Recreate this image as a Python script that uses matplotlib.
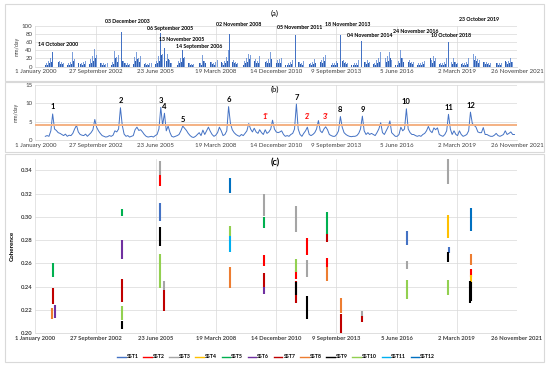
import matplotlib
matplotlib.use('Agg')
import matplotlib.pyplot as plt
from matplotlib.lines import Line2D
import pandas as pd

plt.rcParams['font.family'] = ['Lato', 'DejaVu Sans']

T0 = pd.Timestamp('2000-01-01')

def days(d):
    return (pd.to_datetime(d) - T0).days

# ---- data ----
tick_days = [0, 1000, 2000, 3000, 4000, 5000, 6000, 7000, 8000]
tick_labels = ['1 January 2000', '27 September 2002', '23 June 2005', '19 March 2008',
               '14 December 2010', '9 September 2013', '5 June 2016', '2 March 2019',
               '26 November 2021']

first_month = '2000-06-01'

# (a) monthly highest daily rain (mm/day), Jun 2000 .. Oct 2021
rain_monthly = [
    10, 8, 14, 22, 30, 33, 20,                     # 2000
    22, 14, 12, 9, 13, 8, 10, 12, 36, 18, 28, 16,  # 2001
    12, 9, 12, 14, 8, 14, 18, 25, 44, 28, 20, 14,  # 2002
    10, 8, 7, 8, 12, 10, 12, 38, 24, 28, 36, 26,   # 2003
    14, 8, 10, 7, 9, 12, 24, 36, 22, 26, 18, 12,   # 2004
    9, 7, 8, 9, 7, 12, 14, 25, 40, 30, 38, 28,     # 2005
    30, 16, 9, 7, 9, 10, 14, 20, 34, 24, 20, 14,   # 2006
    10, 7, 6, 9, 12, 15, 10, 28, 14, 22, 35, 20,   # 2007
    12, 9, 12, 16, 26, 20, 10, 14, 24, 40, 25, 22, # 2008
    16, 12, 10, 9, 12, 10, 14, 20, 30, 28, 22, 26, # 2009
    18, 15, 25, 16, 12, 20, 14, 18, 35, 62, 26, 18,# 2010
    16, 18, 20, 12, 9, 10, 9, 12, 16, 24, 40, 22,  # 2011
    12, 9, 15, 20, 25, 12, 10, 12, 18, 40, 35, 20, # 2012
    16, 24, 28, 22, 12, 10, 9, 9, 14, 22, 30, 26,  # 2013
    16, 12, 10, 9, 8, 9, 9, 10, 16, 28, 30, 20,    # 2014
    12, 16, 12, 15, 12, 10, 16, 22, 35, 16, 12, 20,# 2015
    26, 35, 16, 12, 9, 9, 14, 40, 20, 25, 30, 22,  # 2016
    16, 12, 12, 10, 9, 10, 9, 12, 15, 20, 28, 40,  # 2017
    16, 25, 22, 26, 12, 10, 9, 12, 20, 30, 25, 12, # 2018
    20, 12, 10, 20, 12, 9, 10, 12, 22, 40, 40, 30, # 2019
    26, 18, 16, 16, 22, 12, 12, 10, 9, 9, 11, 15,  # 2020
    10, 9, 10, 12, 25, 12, 15, 20, 12, 14,         # 2021
]
# (a) second-highest daily rain of each month
rain_second = [
    5, 4, 8, 12, 18, 20, 12,                       # 2000
    12, 7, 6, 4, 8, 3, 5, 6, 15, 10, 16, 9,        # 2001
    7, 5, 6, 8, 4, 7, 10, 14, 22, 15, 11, 8,       # 2002
    5, 4, 3, 4, 6, 5, 7, 20, 12, 15, 22, 14,       # 2003
    8, 4, 5, 3, 5, 6, 14, 18, 12, 14, 10, 6,       # 2004
    5, 3, 4, 5, 3, 6, 8, 14, 28, 16, 22, 15,       # 2005
    18, 9, 5, 3, 5, 5, 8, 11, 20, 13, 11, 8,       # 2006
    5, 3, 3, 5, 7, 8, 5, 15, 8, 12, 20, 11,        # 2007
    7, 5, 6, 9, 15, 11, 5, 8, 13, 28, 14, 12,      # 2008
    9, 6, 5, 4, 6, 5, 8, 11, 18, 15, 12, 14,       # 2009
    10, 8, 14, 9, 6, 12, 8, 10, 18, 30, 14, 10,    # 2010
    9, 10, 11, 6, 4, 5, 4, 6, 9, 13, 30, 12,       # 2011
    6, 4, 8, 11, 15, 6, 5, 6, 10, 22, 18, 11,      # 2012
    9, 13, 16, 12, 6, 5, 4, 4, 8, 12, 22, 14,      # 2013
    9, 6, 5, 4, 4, 4, 4, 5, 9, 15, 20, 11,         # 2014
    6, 9, 6, 8, 6, 5, 9, 12, 20, 9, 6, 11,         # 2015
    14, 20, 9, 6, 4, 4, 8, 22, 11, 14, 24, 12,     # 2016
    9, 6, 6, 5, 4, 5, 4, 6, 8, 11, 16, 20,         # 2017
    9, 14, 12, 15, 6, 5, 4, 6, 11, 22, 14, 6,      # 2018
    11, 6, 5, 11, 6, 4, 5, 6, 12, 25, 22, 16,      # 2019
    14, 10, 9, 9, 12, 6, 6, 5, 4, 4, 6, 8,         # 2020
    5, 4, 5, 6, 14, 6, 8, 11, 6, 8,                # 2021
]

event_dates = ['2000-10-14', '2003-12-03', '2005-09-06', '2005-11-13', '2006-09-14',
               '2008-11-02', '2011-11-05', '2013-11-18', '2014-11-04', '2016-11-24',
               '2018-10-10', '2019-10-23']
event_names = ['14 October 2000', '03 December 2003', '06 September 2005', '13 November 2005',
               '14 September 2006', '02 November 2008', '05 November 2011', '18 November 2013',
               '04 November 2014', '24 November 2016', '10 October 2018', '23 October 2019']
event_rain = [37, 85, 82, 45, 40, 80, 77, 78, 63, 55, 60, 99]

# (b) monthly mean rain (mm/day)
rain_mean = [
    1.0, 1.2, 1.0, 2.5, 7.1, 3.0, 2.6,                          # 2000
    2.0, 1.8, 1.5, 1.2, 1.6, 1.0, 1.3, 1.2, 1.8, 3.0, 4.0, 2.2, # 2001
    1.5, 1.3, 1.2, 1.6, 1.0, 1.5, 2.0, 2.8, 5.6, 3.5, 2.5, 1.8, # 2002
    1.2, 1.0, 0.8, 0.9, 1.2, 1.0, 1.3, 2.5, 2.2, 3.0, 8.8, 4.0, # 2003
    1.6, 1.0, 1.2, 0.8, 1.0, 1.2, 2.8, 3.5, 2.6, 2.8, 2.2, 1.5, # 2004
    1.0, 0.8, 0.9, 1.0, 0.8, 1.2, 1.5, 3.0, 8.9, 4.0, 7.3, 2.5, # 2005
    3.8, 2.0, 1.0, 0.8, 1.0, 1.2, 1.5, 2.5, 3.8, 3.2, 2.6, 1.8, # 2006
    1.2, 0.8, 0.7, 1.0, 1.5, 2.0, 1.2, 2.7, 1.5, 2.5, 3.5, 2.4, # 2007
    1.5, 1.0, 1.3, 2.0, 3.5, 2.5, 1.2, 1.5, 2.5, 9.1, 4.5, 2.8, # 2008
    2.0, 1.5, 1.2, 1.0, 1.5, 1.2, 1.8, 2.5, 4.5, 3.0, 2.2, 3.2, # 2009
    2.2, 1.8, 2.8, 2.0, 1.5, 2.8, 1.8, 2.2, 3.0, 5.4, 3.0, 2.2, # 2010
    2.0, 2.2, 2.5, 1.5, 1.0, 1.2, 1.0, 1.5, 1.8, 3.0, 9.8, 3.0, # 2011
    1.5, 1.0, 1.8, 2.5, 3.5, 1.5, 1.2, 1.5, 2.0, 3.0, 5.3, 2.5, # 2012
    2.0, 3.0, 3.6, 2.8, 1.5, 1.2, 1.0, 1.0, 1.5, 2.5, 6.4, 3.5, # 2013
    2.0, 1.5, 1.2, 1.0, 0.9, 1.0, 1.0, 1.2, 1.8, 3.0, 6.5, 2.5, # 2014
    1.5, 2.0, 1.5, 1.8, 1.5, 1.2, 2.0, 3.0, 4.7, 2.0, 1.5, 2.5, # 2015
    3.5, 5.2, 2.0, 1.5, 1.0, 1.0, 1.5, 3.5, 2.5, 3.0, 8.5, 3.0, # 2016
    2.0, 1.5, 1.5, 1.2, 1.0, 1.2, 1.0, 1.5, 1.8, 2.5, 3.7, 2.5, # 2017
    2.0, 3.3, 2.8, 3.3, 1.5, 1.2, 1.0, 1.5, 2.5, 7.0, 3.0, 1.5, # 2018
    2.5, 1.5, 1.2, 2.5, 1.5, 1.0, 1.2, 1.5, 2.5, 7.6, 4.5, 4.0, # 2019
    3.5, 2.2, 2.0, 2.0, 3.4, 1.5, 1.5, 1.2, 1.0, 1.0, 1.3, 1.8, # 2020
    1.2, 1.0, 1.2, 1.5, 2.5, 1.5, 1.8, 2.2, 1.5, 1.5,           # 2021
]
threshold = 4.2

peak_labels = ['1', '2', '3', '4', '5', '6', '7', '8', '9', '10', '11', '12']
peak_months = ['2000-10', '2003-11', '2005-09', '2005-11', '2006-09', '2008-10',
               '2011-11', '2013-11', '2014-11', '2016-11', '2018-10', '2019-10']
minor_labels = ["1'", "2'", "3'"]
minor_months = ['2010-06', '2012-05', '2013-03']

# (c) coherence ranges: (date, low, high)
sst_segments = {
    'SST1': [('2005-09-06', 0.296, 0.312), ('2016-11-24', 0.276, 0.288), ('2018-10-25', 0.2687, 0.2741)],
    'SST2': [('2005-09-06', 0.3265, 0.336), ('2010-06-01', 0.258, 0.267), ('2011-11-05', 0.247, 0.254),
             ('2012-05-10', 0.267, 0.282), ('2013-04-05', 0.257, 0.265), ('2019-10-23', 0.248, 0.255)],
    'SST3': [('2005-09-06', 0.336, 0.348), ('2005-11-13', 0.237, 0.245), ('2010-06-01', 0.301, 0.320),
             ('2011-11-05', 0.287, 0.309), ('2012-05-10', 0.248, 0.263), ('2014-11-04', 0.214, 0.219),
             ('2016-11-24', 0.255, 0.262), ('2018-10-10', 0.328, 0.350)],
    'SST4': [('2018-10-10', 0.2815, 0.3016), ('2019-10-23', 0.239, 0.250)],
    'SST5': [('2000-10-14', 0.248, 0.260), ('2003-12-03', 0.301, 0.307), ('2010-06-01', 0.290, 0.300),
             ('2013-04-05', 0.285, 0.304)],
    'SST6': [('2000-11-20', 0.2134, 0.2243), ('2003-12-03', 0.264, 0.280), ('2010-06-01', 0.2335, 0.240)],
    'SST7': [('2000-10-14', 0.225, 0.239), ('2003-12-03', 0.227, 0.247), ('2005-11-13', 0.2195, 0.2372),
             ('2010-05-20', 0.240, 0.2515), ('2011-11-05', 0.226, 0.245), ('2013-04-05', 0.2787, 0.2853),
             ('2013-11-18', 0.2006, 0.2163), ('2014-11-04', 0.2094, 0.2152)],
    'SST8': [('2000-10-01', 0.212, 0.222), ('2008-11-02', 0.239, 0.257), ('2013-04-05', 0.245, 0.257),
             ('2013-11-18', 0.2177, 0.230), ('2019-10-23', 0.2587, 0.2678)],
    'SST9': [('2003-12-03', 0.2034, 0.2109), ('2005-09-06', 0.2752, 0.2916), ('2011-11-05', 0.233, 0.244),
             ('2012-05-10', 0.2123, 0.2323), ('2018-10-10', 0.261, 0.2695), ('2019-10-01', 0.2258, 0.2449),
             ('2019-10-23', 0.2278, 0.2443)],
    'SST10': [('2003-12-03', 0.2114, 0.2237), ('2005-09-06', 0.2386, 0.2678), ('2008-11-02', 0.2835, 0.2924),
              ('2011-11-05', 0.2524, 0.2638), ('2016-11-24', 0.2292, 0.2458), ('2018-10-10', 0.2329, 0.2458)],
    'SST11': [('2008-11-02', 0.270, 0.2835)],
    'SST12': [('2008-11-02', 0.3207, 0.333), ('2019-10-23', 0.2878, 0.3079)],
}
sst_colors = ['#4472C4', '#FF0000', '#A5A5A5', '#FFC000', '#00B050', '#7030A0',
              '#C00000', '#ED7D31', '#000000', '#92D050', '#00B0F0', '#0070C0']

# ---- layout ----
a_label_pos = [(385, 54.6), (1523, 109), (2238, 94), (2437, 67.5), (2719, 50), (3384, 104),
               (4397, 96), (5194, 102), (5560, 75.6), (6324, 85), (6905, 75), (7370, 115.6)]
grid_c = '#D9D9D9'
txt_c = '#404040'

fig = plt.figure(figsize=(5.5, 3.68), dpi=100)
for y0, h in [(0.780, 0.209), (0.587, 0.190), (0.016, 0.565)]:
    fig.add_artist(plt.Rectangle((0.009, y0), 0.98, h, transform=fig.transFigure,
                                 fill=False, edgecolor=grid_c, lw=0.8))

ax_a = fig.add_axes([0.0642, 0.8188, 0.8758, 0.1114])
ax_b = fig.add_axes([0.0642, 0.6196, 0.8758, 0.1494])
ax_c = fig.add_axes([0.0642, 0.0943, 0.8758, 0.4747])

def style(ax, bold=False, fs=4.4):
    ax.set_xlim(0, 8000)
    ax.set_xticks(tick_days)
    ax.set_xticklabels(tick_labels, fontsize=fs, color=txt_c,
                       fontweight='bold' if bold else 'normal')
    ax.tick_params(length=0, pad=2)
    for s in ['top', 'right', 'left']:
        ax.spines[s].set_visible(False)
    ax.spines['bottom'].set_color(grid_c)
    ax.spines['bottom'].set_linewidth(0.6)
    ax.grid(True, color=grid_c, lw=0.5)
    ax.set_axisbelow(True)

months = pd.date_range(first_month, periods=len(rain_monthly), freq='MS')
month_x = days(months) + 14

# (a)
style(ax_a)
ax_a.bar(days(months) + 8, rain_monthly, width=10, color='#5B87D3', alpha=0.8, lw=0)
ax_a.bar(days(months) + 22, rain_second, width=10, color='#2F5FB3', lw=0)
ax_a.bar(days(event_dates), event_rain, width=12, color='#4472C4', lw=0)
ax_a.set_ylim(0, 100)
ax_a.set_yticks(range(0, 101, 20))
ax_a.tick_params(axis='y', labelsize=4.4, labelcolor=txt_c)
ax_a.set_ylabel('mm/day', fontsize=3.8, color=txt_c, labelpad=2)
for name, (lx, ly) in zip(event_names, a_label_pos):
    ax_a.text(lx, ly, name, fontsize=3.8, fontweight='bold', ha='center', va='center')
fig.text(0.5, 0.963, '(a)', fontsize=5.5, ha='center', va='center')

# (b)
style(ax_b)
ax_b.plot(month_x, rain_mean, color='#4472C4', lw=0.7)
ax_b.axhline(threshold, color='#F4B183', lw=1.4)
ax_b.set_ylim(0, 15)
ax_b.set_yticks([0, 5, 10, 15])
ax_b.tick_params(axis='y', labelsize=4.4, labelcolor=txt_c)
ax_b.set_ylabel('mm/day', fontsize=3.8, color=txt_c, labelpad=5)
mean_s = pd.Series(rain_mean, index=months.strftime('%Y-%m'))
for lab, m in zip(peak_labels, peak_months):
    ax_b.annotate(lab, (days(m + '-15'), mean_s[m]), xytext=(0, 2.5), textcoords='offset points',
                  ha='center', va='bottom', fontsize=5.5, fontweight='bold')
for lab, m in zip(minor_labels, minor_months):
    ax_b.annotate(lab, (days(m + '-15'), threshold), xytext=(0, 3), textcoords='offset points',
                  ha='center', va='bottom', fontsize=5, fontweight='bold', color='#FF0000')
fig.text(0.5, 0.758, '(b)', fontsize=5.5, ha='center', va='center')

# (c)
style(ax_c, bold=True, fs=4.2)
handles = []
for (name, segs), col in zip(sst_segments.items(), sst_colors):
    xs = days([s[0] for s in segs])
    ax_c.vlines(xs, [s[1] for s in segs], [s[2] for s in segs], color=col, lw=1.5)
    handles.append(Line2D([], [], color=col, lw=1.0))
ax_c.set_ylim(0.20, 0.35)
ax_c.set_yticks([0.20, 0.22, 0.24, 0.26, 0.28, 0.30, 0.32, 0.34])
ax_c.set_yticklabels(['%.2f' % v for v in ax_c.get_yticks()], fontsize=4.3, fontweight='bold', color=txt_c)
ax_c.set_ylabel('Coherence', fontsize=4.5, fontweight='bold', labelpad=4)
fig.text(0.5, 0.557, '(c)', fontsize=6.5, fontweight='bold', ha='center', va='center')
fig.legend(handles, list(sst_segments.keys()), loc='center', bbox_to_anchor=(0.502, 0.03),
           ncol=12, frameon=False, handlelength=1.6, handletextpad=0.2, columnspacing=0.9,
           prop={'size': 3.8, 'weight': 'bold'})

fig.savefig('out.png', dpi=100)
